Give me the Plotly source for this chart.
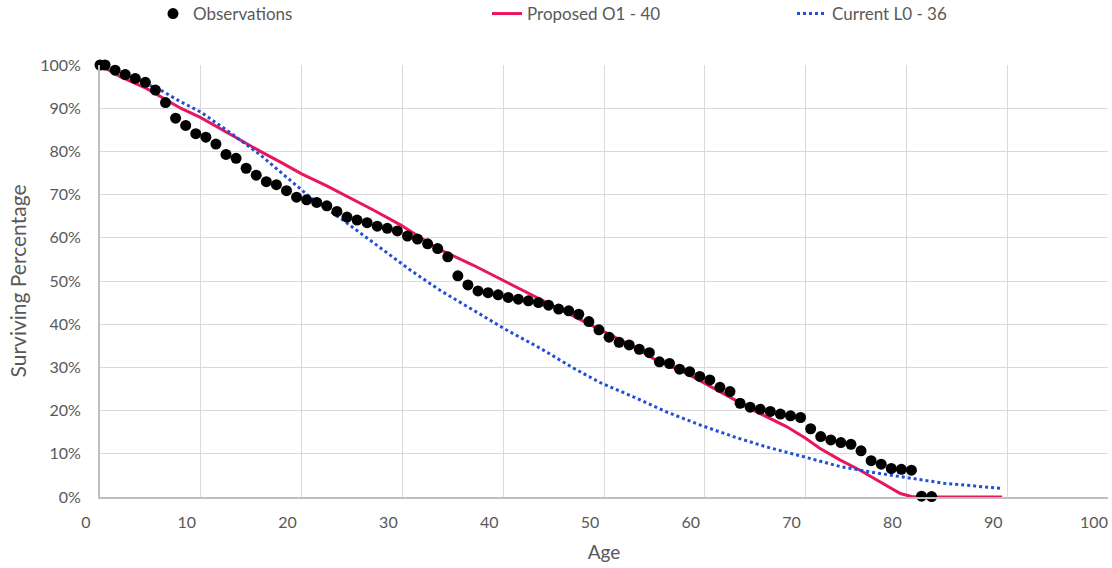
import plotly.graph_objects as go

# ---------------- data ----------------
obs_age = [0, 0.5, 1.5, 2.5, 3.5, 4.5, 5.5, 6.5, 7.5, 8.5, 9.5, 10.5, 11.5, 12.5, 13.5,
           14.5, 15.5, 16.5, 17.5, 18.5, 19.5, 20.5, 21.5, 22.5, 23.5, 24.5, 25.5, 26.5,
           27.5, 28.5, 29.5, 30.5, 31.5, 32.5, 33.5, 34.5, 35.5, 36.5, 37.5, 38.5, 39.5,
           40.5, 41.5, 42.5, 43.5, 44.5, 45.5, 46.5, 47.5, 48.5, 49.5, 50.5, 51.5, 52.5,
           53.5, 54.5, 55.5, 56.5, 57.5, 58.5, 59.5, 60.5, 61.5, 62.5, 63.5, 64.5, 65.5,
           66.5, 67.5, 68.5, 69.5, 70.5, 71.5, 72.5, 73.5, 74.5, 75.5, 76.5, 77.5, 78.5,
           79.5, 80.5, 81.5, 82.5]
obs_pct = [100, 100, 98.8, 97.8, 96.9, 96.0, 94.2, 91.3, 87.7, 86.0, 84.1, 83.3, 81.7, 79.3,
           78.4, 76.1, 74.5, 73.0, 72.3, 70.9, 69.4, 68.8, 68.2, 67.4, 66.1, 64.8, 64.1,
           63.5, 62.7, 62.2, 61.6, 60.4, 59.7, 58.6, 57.5, 55.6, 51.2, 49.1, 47.7, 47.3,
           46.8, 46.2, 45.8, 45.4, 45.0, 44.4, 43.5, 43.1, 42.3, 40.6, 38.7, 37.0, 35.8,
           35.2, 34.2, 33.4, 31.3, 30.9, 29.6, 29.0, 27.9, 27.1, 25.4, 24.4, 21.7, 20.8,
           20.3, 19.8, 19.2, 18.8, 18.4, 15.8, 14.0, 13.2, 12.6, 12.2, 10.7, 8.4, 7.6,
           6.6, 6.4, 6.2, 0.2, 0.1]

prop_age = [0, 2, 4.6, 8, 10, 13, 16, 18, 20, 22.5, 24.8, 27.3, 29.8, 33.5, 37, 40.3, 43.7,
            47, 50.3, 53.6, 55, 58.2, 61.5, 64.8, 68.1, 70, 71.4, 73.4, 75.4, 77.4, 79.4,
            80.5, 82, 89.5]
prop_pct = [100, 97.3, 94.6, 90.0, 87.8, 83.8, 79.9, 77.4, 74.8, 72.0, 69.3, 66.2, 63.0,
            57.5, 53.7, 49.8, 45.6, 41.7, 37.9, 34.0, 31.9, 28.6, 24.4, 20.1, 16.3, 13.6,
            11.3, 8.6, 6.2, 3.5, 0.8, 0.1, 0, 0]

curr_age = [0, 2, 4, 6, 8, 10, 13, 16, 18, 20.8, 24.1, 27.4, 30.8, 33.7, 37, 40.3, 43.7,
            47, 49.6, 52.9, 56.2, 59.5, 62.8, 66.1, 70, 73.5, 77.2, 80.5, 83.7, 87, 89.5]
curr_pct = [100, 98.2, 96.3, 94.2, 91.5, 89.1, 84.2, 79.0, 75.0, 69.5, 64.1, 58.3, 52.5,
            47.9, 43.3, 38.7, 34.4, 29.8, 26.5, 23.2, 19.7, 16.7, 14.0, 11.6, 9.2, 7.0,
            5.5, 4.3, 3.2, 2.5, 2.0]

x_ticks = [0, 10, 20, 30, 40, 50, 60, 70, 80, 90, 100]
y_ticks = [0, 10, 20, 30, 40, 50, 60, 70, 80, 90, 100]

FONT = "Lato"
GREY = "#595959"
W, H = 1112, 568

fig = go.Figure()
fig.add_trace(go.Scatter(
    x=prop_age, y=prop_pct, mode="lines", name="Proposed O1 - 40",
    line=dict(color="#E8175D", width=3), cliponaxis=False, legend="legend2"))
fig.add_trace(go.Scatter(
    x=curr_age, y=curr_pct, mode="lines", name="Current L0 - 36",
    line=dict(color="#1F4FD6", width=3, dash="dot"), cliponaxis=False, legend="legend3"))
fig.add_trace(go.Scatter(
    x=obs_age, y=obs_pct, mode="markers", name="Observations",
    marker=dict(color="#000000", size=11, line=dict(width=0)),
    cliponaxis=False, legend="legend"))

def leg(xpx):
    return dict(orientation="h", xref="container", yref="container",
                x=xpx / W, y=1 - 14 / H, xanchor="left", yanchor="middle",
                font=dict(family=FONT, size=17, color=GREY),
                bgcolor="rgba(0,0,0,0)", borderwidth=0)

fig.update_layout(
    width=W, height=H,
    margin=dict(l=100, r=4, t=65, b=71),
    paper_bgcolor="white", plot_bgcolor="white",
    font=dict(family=FONT, size=16, color=GREY),
    showlegend=True,
    legend=leg(153), legend2=leg(487), legend3=leg(792),
    xaxis=dict(
        range=[0, 100], tickvals=x_ticks, ticktext=[str(v) for v in x_ticks],
        showgrid=True, gridcolor="#D9D9D9", gridwidth=1,
        showline=True, linecolor="#BFBFBF", linewidth=2,
        zeroline=False, ticks="", ticklabelshift=-14, ticklabelstandoff=10,
        tickfont=dict(family=FONT, size=16, color=GREY),
        title=dict(text="Age", font=dict(family=FONT, size=19, color=GREY), standoff=15),
    ),
    yaxis=dict(
        range=[0, 100], tickvals=y_ticks, ticktext=[f"{v}%" for v in y_ticks],
        showgrid=True, gridcolor="#D9D9D9", gridwidth=1,
        showline=True, linecolor="#BFBFBF", linewidth=2,
        zeroline=False, ticks="", ticklabelstandoff=14,
        tickfont=dict(family=FONT, size=16, color=GREY),
        title=dict(text="Surviving Percentage", font=dict(family=FONT, size=21, color=GREY),
                   standoff=8),
    ),
)

fig.write_html("out.html", config={"displayModeBar": False},
               post_script="document.body.style.margin='0px';")
